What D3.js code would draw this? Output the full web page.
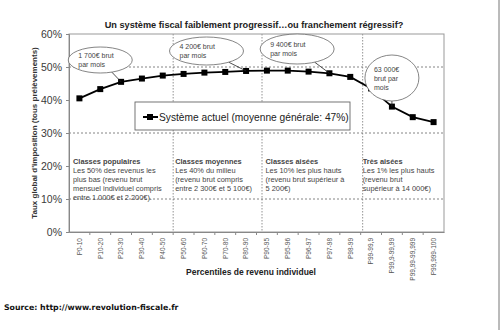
<!DOCTYPE html>
<html><head><meta charset="utf-8">
<script src="https://cdn.jsdelivr.net/npm/d3@7/dist/d3.min.js"></script>
<style>body{margin:0;background:#fff}svg{display:block;font-family:"Liberation Sans",Arial,sans-serif}</style>
</head><body><svg id="c" width="500" height="330"></svg>
<script>
const categories = ["P0-10","P10-20","P20-30","P30-40","P40-50","P50-60","P60-70","P70-80","P80-90","P90-95","P95-96","P96-97","P97-98","P98-99","P99-99,9","P99,9-99,99","P99,99-99,999","P99,999-100"];
const values = [40.5,43.3,45.5,46.5,47.4,47.9,48.3,48.5,48.8,48.9,48.9,48.6,48.1,47.0,43.5,38.0,34.8,33.3];
const yTicks = [0,10,20,30,40,50,60];
const gridValues = [10,30,50];
const groupBreaks = ["P50-60","P90-95","P99-99,9"];
const groups = [
  {start:"P0-10", title:"Classes populaires", lines:["Les 50% des revenus les","plus bas (revenu brut","mensuel individuel compris","entre 1.000€ et 2 200€)."]},
  {start:"P50-60", title:"Classes moyennes", lines:["Les 40% du milieu","(revenu brut compris","entre 2 300€ et 5 100€)"]},
  {start:"P90-95", title:"Classes aisées", lines:["Les 10% les plus hauts","(revenu brut supérieur à","5 200€)"]},
  {start:"P99-99,9", title:"Très aisées", lines:["Les 1% les plus hauts","(revenu brut","supérieur à 14 000€)"]}
];
const callouts = [
  {cat:"P20-30", lines:["1 700€ brut","par mois"], cx:"P10-20", dx:0.5, cy:60, rx:32, ry:13},
  {cat:"P80-90", lines:["4 200€ brut","par mois"], cx:"P60-70", dx:0.6, cy:51, rx:37, ry:14},
  {cat:"P97-98", lines:["9 400€ brut","par mois"], cx:"P95-96", dx:0.95, cy:49, rx:37, ry:15},
  {cat:"P99,9-99,99", lines:["63 000€","brut par","mois"], cx:"P99,9-99,99", dx:0.5, cy:78, rx:27, ry:23}
];
const seriesName = "Système actuel (moyenne générale: 47%)";

const svg = d3.select("#c");
const L=69, R=444, T=34, B=232;
const x = d3.scaleBand().domain(categories).range([L,R]);
const y = d3.scaleLinear().domain([0,60]).range([B,T]);
const cxp = c => x(c)+x.bandwidth()/2;
const breakOffset = [0, 5.5, 2];
const textOffset = [4, 2, 9, 2];

// title
svg.append("text").attr("x",254).attr("y",28).attr("text-anchor","middle")
  .attr("font-size",9.2).attr("font-weight","bold").attr("fill","#222")
  .text("Un système fiscal faiblement progressif…ou franchement régressif?");

// grid
svg.selectAll(".hg").data(gridValues).join("line")
  .attr("x1",L).attr("x2",R).attr("y1",d=>y(d)).attr("y2",d=>y(d))
  .attr("stroke","#666").attr("stroke-width",0.8).attr("stroke-dasharray","2,2");
svg.selectAll(".vg").data(groupBreaks).join("line")
  .attr("x1",(d,i)=>x(d)+breakOffset[i]).attr("x2",(d,i)=>x(d)+breakOffset[i]).attr("y1",T).attr("y2",B)
  .attr("stroke","#777").attr("stroke-width",0.8).attr("stroke-dasharray","1.5,1.5");

// frame
svg.append("rect").attr("x",L).attr("y",T).attr("width",R-L).attr("height",B-T)
  .attr("fill","none").attr("stroke","#999").attr("stroke-width",1);

// y axis
const ya = svg.append("g").attr("transform",`translate(${L},0)`)
  .call(d3.axisLeft(y).tickValues(yTicks).tickFormat(d=>d+"%").tickSize(3).tickPadding(4));
ya.select(".domain").attr("stroke","#888");
ya.selectAll(".tick line").attr("stroke","#888");
ya.selectAll("text").attr("font-size",10.5).attr("fill","#3a3a3a").attr("font-family","Liberation Sans, Arial");

// x axis
const xa = svg.append("g").attr("transform",`translate(0,${B})`)
  .call(d3.axisBottom(x).tickSize(0).tickPadding(0));
xa.select(".domain").attr("stroke","#888");
xa.selectAll("text").attr("font-size",6.5).attr("fill","#555").attr("font-family","Liberation Sans, Arial")
  .attr("text-anchor","end").attr("dy",null).attr("y",0)
  .attr("transform","translate(2.3,6) rotate(-90)");
svg.selectAll(".xt").data(categories.slice(1)).join("line")
  .attr("x1",d=>x(d)).attr("x2",d=>x(d)).attr("y1",B).attr("y2",B+3).attr("stroke","#888");

// axis titles
svg.append("text").attr("transform","translate(37,133) rotate(-90)").attr("text-anchor","middle")
  .attr("font-size",8).attr("font-weight","bold").attr("fill","#333")
  .text("Taux global d'imposition (tous prélèvements)");
svg.append("text").attr("x",251).attr("y",275).attr("text-anchor","middle")
  .attr("font-size",8.5).attr("font-weight","bold").attr("fill","#222")
  .text("Percentiles de revenu individuel");

// groups text
groups.forEach((g,i)=>{
  const gx = x(g.start)+textOffset[i];
  const t = svg.append("text").attr("x",gx).attr("y",164).attr("font-size",7.4).attr("fill","#444");
  t.append("tspan").attr("x",gx).attr("font-weight","bold").text(g.title);
  g.lines.forEach(l=>t.append("tspan").attr("x",gx).attr("dy",9).text(l));
});

// legend
svg.append("rect").attr("x",135).attr("y",102).attr("width",215).attr("height",28)
  .attr("fill","#fff").attr("stroke","#666").attr("stroke-width",0.9);
svg.append("line").attr("x1",143).attr("x2",158).attr("y1",117).attr("y2",117).attr("stroke","#000").attr("stroke-width",2);
svg.append("rect").attr("x",147).attr("y",114).attr("width",6).attr("height",6).attr("fill","#000");
svg.append("text").attr("x",159).attr("y",121).attr("font-size",10.2).attr("fill","#222").text(seriesName);

// line
svg.append("path").datum(values.map((v,i)=>[categories[i],v]))
  .attr("d",d3.line().x(d=>cxp(d[0])).y(d=>y(d[1])))
  .attr("fill","none").attr("stroke","#000").attr("stroke-width",1.8);
svg.selectAll(".pt").data(values).join("rect")
  .attr("x",(d,i)=>cxp(categories[i])-3).attr("y",d=>y(d)-3).attr("width",6).attr("height",6).attr("fill","#000");

// callouts
callouts.forEach(c=>{
  const ex = x(c.cx)+x.bandwidth()*c.dx;
  const px = cxp(c.cat), py = y(values[categories.indexOf(c.cat)]);
  const ang = Math.atan2(py-c.cy, px-ex);
  const t0 = Math.atan2(Math.sin(ang)/c.ry, Math.cos(ang)/c.rx);
  const sx = ex + c.rx*Math.cos(t0), sy = c.cy + c.ry*Math.sin(t0);
  svg.append("line").attr("x1",sx).attr("y1",sy).attr("x2",px).attr("y2",py)
    .attr("stroke","#222").attr("stroke-width",0.8);
  svg.append("ellipse").attr("cx",ex).attr("cy",c.cy).attr("rx",c.rx).attr("ry",c.ry)
    .attr("fill","#fff").attr("stroke","#666").attr("stroke-width",0.8);
  const tx = ex - c.rx + (c.lines.length>2?9:10);
  const t = svg.append("text").attr("font-size",7).attr("fill","#444");
  c.lines.forEach((l,i)=>t.append("tspan").attr("x",tx).attr("y",c.cy - (c.lines.length-1)*4.5 + i*9 + 2.5).text(l));
});

// source
svg.append("text").attr("x",4).attr("y",310).attr("font-size",7.8).attr("font-weight","bold")
  .attr("fill","#111").attr("font-family","DejaVu Sans, sans-serif").text("Source: http://www.revolution-fiscale.fr");

// right edge line
svg.append("line").attr("x1",499).attr("x2",499).attr("y1",0).attr("y2",330).attr("stroke","#777").attr("stroke-width",1);
</script></body></html>
